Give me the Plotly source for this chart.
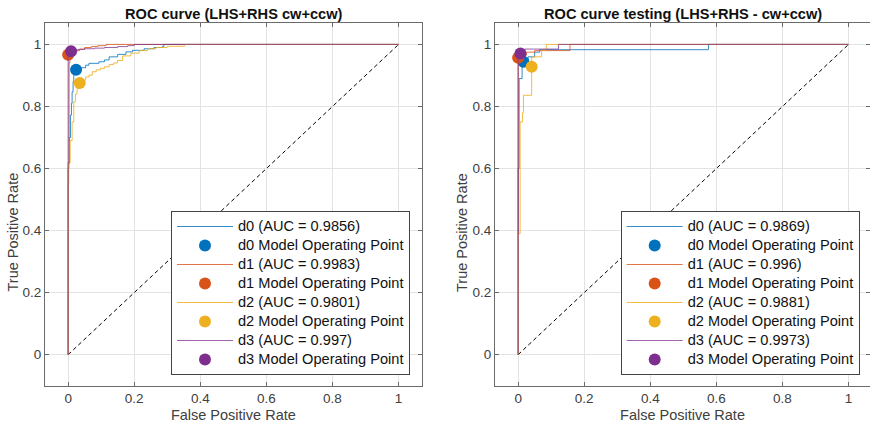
import plotly.graph_objects as go

W, H = 870, 424
FONT = "Liberation Sans, Arial, Helvetica, sans-serif"

classes = ["d0", "d1", "d2", "d3"]
colors = ["#0072BD", "#D95319", "#EDB120", "#7E2F8E"]
line_colors = ["rgba(0,114,189,0.8)", "rgba(217,83,25,0.8)",
               "rgba(237,177,32,0.85)", "rgba(126,47,142,0.75)"]

# ---- training (left) ----
train_auc = ["0.9856", "0.9983", "0.9801", "0.997"]
train_fpr_d0 = [0, 0, 0.002, 0.004, 0.007, 0.010, 0.012, 0.015, 0.017, 0.024, 0.035, 0.053,
                0.063, 0.093, 0.110, 0.124, 0.150, 0.175, 0.195, 0.230, 0.260, 0.286, 0.290, 1]
train_tpr_d0 = [0, 0.60, 0.617, 0.70, 0.772, 0.81, 0.847, 0.88, 0.912, 0.919, 0.925, 0.933,
                0.939, 0.944, 0.95, 0.96, 0.968, 0.976, 0.981, 0.986, 0.99, 0.994, 1, 1]
train_fpr_d1 = [0, 0, 0.003, 0.005, 0.01, 0.02, 0.035, 0.05, 0.07, 0.09, 0.115, 1]
train_tpr_d1 = [0, 0.62, 0.94, 0.967, 0.975, 0.98, 0.985, 0.99, 0.993, 0.996, 1, 1]
train_fpr_d2 = [0, 0, 0.002, 0.006, 0.012, 0.017, 0.022, 0.027, 0.035, 0.045, 0.053, 0.063,
                0.073, 0.085, 0.098, 0.11, 0.124, 0.137, 0.149, 0.165, 0.19, 0.215, 0.24,
                0.266, 0.3, 0.352, 0.352, 1]
train_tpr_d2 = [0, 0.55, 0.617, 0.69, 0.75, 0.815, 0.84, 0.858, 0.874, 0.885, 0.895, 0.901,
                0.912, 0.918, 0.923, 0.928, 0.935, 0.94, 0.948, 0.963, 0.972, 0.98, 0.986,
                0.99, 0.994, 0.997, 1, 1]
train_fpr_d3 = [0, 0, 0.005, 0.015, 0.03, 0.05, 0.08, 0.11, 0.15, 0.18, 0.2, 1]
train_tpr_d3 = [0, 0.97, 0.978, 0.982, 0.984, 0.986, 0.988, 0.99, 0.993, 0.996, 1, 1]
train_op_fpr = [0.024, 0.0, 0.035, 0.009]
train_op_tpr = [0.918, 0.967, 0.876, 0.978]

# ---- testing (right) ----
test_auc = ["0.9869", "0.996", "0.9881", "0.9973"]
test_fpr_d0 = [0, 0, 0.003, 0.012, 0.03, 0.05, 0.065, 0.576, 1]
test_tpr_d0 = [0, 0.6, 0.89, 0.94, 0.96, 0.975, 0.983, 1, 1]
test_fpr_d1 = [0, 0, 0.01, 0.025, 0.05, 0.157, 1]
test_tpr_d1 = [0, 0.955, 0.965, 0.975, 0.98, 1, 1]
test_fpr_d2 = [0, 0, 0.006, 0.013, 0.016, 0.041, 0.071, 0.085, 1]
test_tpr_d2 = [0, 0.39, 0.75, 0.78, 0.836, 0.96, 0.982, 1, 1]
test_fpr_d3 = [0, 0, 0.02, 0.122, 1]
test_tpr_d3 = [0, 0.971, 0.985, 1, 1]
test_op_fpr = [0.016, 0.0, 0.041, 0.007]
test_op_tpr = [0.944, 0.957, 0.928, 0.971]

titles = ["ROC curve (LHS+RHS cw+ccw)", "ROC curve testing (LHS+RHS - cw+ccw)"]
xlabel = "False Positive Rate"
ylabel = "True Positive Rate"
ticks = [0, 0.2, 0.4, 0.6, 0.8, 1]
tick_text = ["0", "0.2", "0.4", "0.6", "0.8", "1"]
diag = [0, 1]

train_curves = [(train_fpr_d0, train_tpr_d0), (train_fpr_d1, train_tpr_d1),
                (train_fpr_d2, train_tpr_d2), (train_fpr_d3, train_tpr_d3)]
test_curves = [(test_fpr_d0, test_tpr_d0), (test_fpr_d1, test_tpr_d1),
               (test_fpr_d2, test_tpr_d2), (test_fpr_d3, test_tpr_d3)]

fig = go.Figure()


def lbl(s):
    return '<span style="font-size:14.6px">' + s + '</span>'


def add_panel(curves, aucs, op_x, op_y, xa, ya, leg):
    fig.add_trace(go.Scatter(x=diag, y=diag, mode="lines", xaxis=xa, yaxis=ya,
                             line=dict(color="black", width=1, dash="4px,3px"),
                             showlegend=False, hoverinfo="skip"))
    for i, c in enumerate(classes):
        fx, ty = curves[i]
        fig.add_trace(go.Scatter(x=fx, y=ty, mode="lines", line_shape="hv",
                                 line=dict(color=line_colors[i], width=1),
                                 name=lbl(f"{c} (AUC = {aucs[i]})"),
                                 xaxis=xa, yaxis=ya, legend=leg))
        fig.add_trace(go.Scatter(x=[op_x[i]], y=[op_y[i]], mode="markers",
                                 marker=dict(color=colors[i], size=12),
                                 name=lbl(f"{c} Model Operating Point"),
                                 xaxis=xa, yaxis=ya, legend=leg))


add_panel(train_curves, train_auc, train_op_fpr, train_op_tpr, "x", "y", "legend")
add_panel(test_curves, test_auc, test_op_fpr, test_op_tpr, "x2", "y2", "legend2")

ydom = [1 - 385.7 / H, 1 - 22.7 / H]
xdom1 = [45 / W, 421.7 / W]
xdom2 = [495 / W, 1.0]

axis_common = dict(showline=True, linecolor="#6b6b6b", linewidth=1, mirror="ticks",
                   ticks="inside", ticklen=4, tickcolor="#6b6b6b",
                   showgrid=True, gridcolor="#e3e3e3", gridwidth=1, zeroline=False,
                   tickvals=ticks, ticktext=tick_text,
                   tickfont=dict(family=FONT, size=13.5, color="#404040"))

legend_common = dict(xanchor="left", yanchor="top", bgcolor="white",
                     bordercolor="#444", borderwidth=1, itemwidth=56,
                     font=dict(family=FONT, size=12, color="#111"),
                     tracegroupgap=0, traceorder="normal")

fig.update_layout(
    width=W, height=H, margin=dict(l=0, r=0, t=0, b=0),
    paper_bgcolor="white", plot_bgcolor="white",
    font=dict(family=FONT, color="#222"),
    xaxis=dict(domain=xdom1, range=[-0.07, 1.07], anchor="y",
               title=dict(text=xlabel, standoff=4, font=dict(size=14.5, color="#404040")),
               **axis_common),
    yaxis=dict(domain=ydom, range=[-0.1, 1.07], anchor="x", **axis_common),
    xaxis2=dict(domain=xdom2, range=[-0.07, 1.065], anchor="y2",
                title=dict(text=xlabel, standoff=4, font=dict(size=14.5, color="#404040")),
                **axis_common),
    yaxis2=dict(domain=ydom, range=[-0.1, 1.07], anchor="x2", **axis_common),
    legend=dict(x=171 / W, y=1 - 211 / H, **legend_common),
    legend2=dict(x=620.7 / W, y=1 - 211 / H, **legend_common),
    showlegend=True,
)

annotations = []
for t, cx in zip(titles, [233.4, 683.4]):
    annotations.append(dict(text="<b>" + t + "</b>", x=cx / W, y=1 - 14 / H, xref="paper", yref="paper",
                            xanchor="center", yanchor="middle", showarrow=False,
                            font=dict(family=FONT, size=14.6, color="#111")))
for cx in [12.5, 462]:
    annotations.append(dict(text=ylabel, x=cx / W, y=1 - 232 / H, xref="paper", yref="paper",
                            xanchor="center", yanchor="middle", showarrow=False, textangle=-90,
                            font=dict(family=FONT, size=14.5, color="#404040")))
fig.update_layout(annotations=annotations)

fig.write_html("out.html", config={"displayModeBar": False},
               post_script="document.body.style.margin='0';document.body.style.overflow='hidden';")
